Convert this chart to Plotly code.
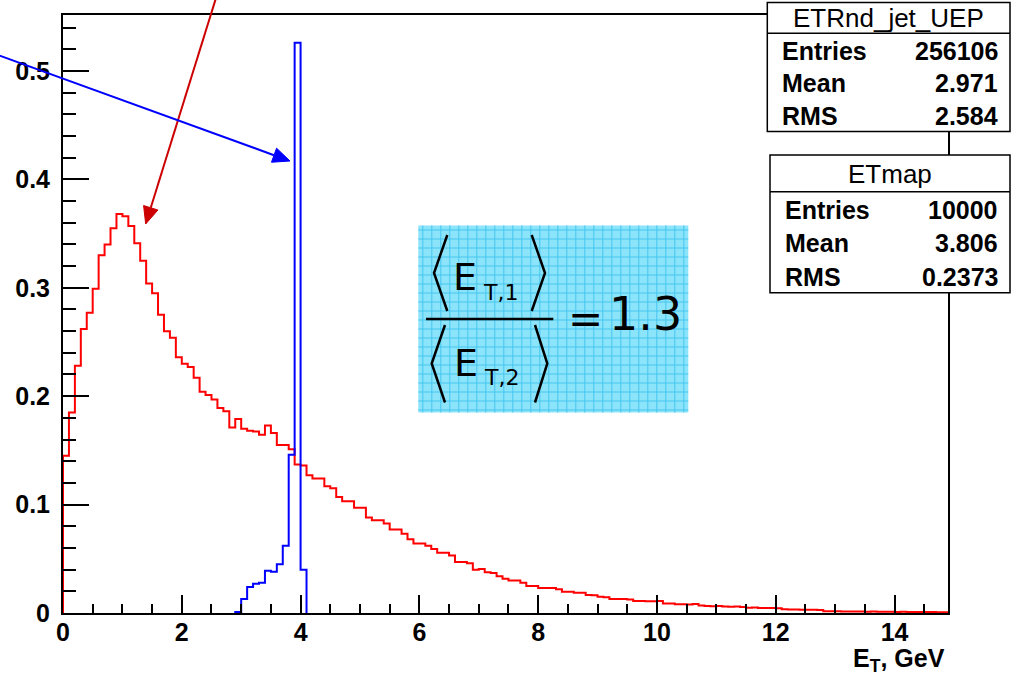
import numpy as np
import plotly.graph_objects as go

# ---------------- data ----------------
bin_width = 0.1
x_min, x_max = 0.0, 14.9

# ETRnd_jet_UEP (red), bins of 0.1 GeV from 0 to 14.9
red_values = [
    0.145, 0.185, 0.228, 0.262, 0.277, 0.299, 0.330, 0.340, 0.355, 0.368,
    0.366, 0.357, 0.341, 0.325, 0.304, 0.295, 0.275, 0.260, 0.254, 0.236,
    0.230, 0.227, 0.217, 0.204, 0.201, 0.197, 0.189, 0.186, 0.171, 0.179,
    0.170, 0.168, 0.1675, 0.1645, 0.173, 0.166, 0.155, 0.155, 0.151, 0.137,
    0.136, 0.127, 0.124, 0.124, 0.117, 0.115, 0.107, 0.103, 0.103, 0.097,
    0.097, 0.088, 0.0855, 0.0855, 0.0825, 0.077, 0.077, 0.073, 0.068, 0.064,
    0.064, 0.062, 0.059, 0.0555, 0.0555, 0.053, 0.047, 0.047, 0.046, 0.040,
    0.0405, 0.0376, 0.037, 0.034, 0.0315, 0.030, 0.030, 0.028, 0.025, 0.025,
    0.023, 0.023, 0.023, 0.022, 0.0195, 0.0195, 0.0186, 0.0186, 0.0165, 0.0164,
    0.015, 0.0146, 0.013, 0.013, 0.0128, 0.0125, 0.011, 0.011, 0.0108, 0.0108,
    0.011, 0.0088, 0.0088, 0.008, 0.008, 0.0078, 0.0082, 0.0070, 0.0065, 0.0063,
    0.0065, 0.0060, 0.0058, 0.0060, 0.0056, 0.0048, 0.0050, 0.0046, 0.0045, 0.0047,
    0.0043, 0.0034, 0.0032, 0.0033, 0.0030, 0.0031, 0.0029, 0.0028, 0.0016, 0.0015,
    0.0015, 0.0014, 0.0014, 0.0013, 0.0013, 0.0012, 0.0013, 0.0012, 0.0011, 0.0011,
    0.0010, 0.0011, 0.0010, 0.0010, 0.0009, 0.0009, 0.0009, 0.0008, 0.0008,
]

# ETmap (blue), bins of 0.1 GeV starting at 2.9
blue_start = 2.9
blue_values = [0.001, 0.013, 0.024, 0.027, 0.028, 0.039, 0.038, 0.045, 0.062, 0.146, 0.526, 0.040]

x_tickvals = [0, 2, 4, 6, 8, 10, 12, 14]
x_ticktext = ["0", "2", "4", "6", "8", "10", "12", "14"]
y_tickvals = [0, 0.1, 0.2, 0.3, 0.4, 0.5]
y_ticktext = ["0", "0.1", "0.2", "0.3", "0.4", "0.5"]

stats_red = {"title": "ETRnd_jet_UEP", "Entries": "256106", "Mean": "2.971", "RMS": "2.584"}
stats_blue = {"title": "ETmap", "Entries": "10000", "Mean": "3.806", "RMS": "0.2373"}

ratio_text = "1.3"


def step_xy(start, values):
    edges = start + bin_width * np.arange(len(values) + 1)
    xs = [edges[0]] + list(edges)
    ys = [0.0] + list(values) + [0.0]
    return xs, ys


# ---------------- figure ----------------
W, H = 1012, 675
PL, PR, PT, PB = 63, 948, 15, 613  # plot area in pixels


def fx(p):
    return (p - PL) / (PR - PL)


def fy(p):
    return (PB - p) / (PB - PT)


fig = go.Figure()

rx, ry = step_xy(x_min, red_values)
fig.add_trace(go.Scatter(x=rx, y=ry, mode="lines", line=dict(color="#ff0000", width=2, shape="hv"),
                         showlegend=False, hoverinfo="skip"))
bx, by = step_xy(blue_start, blue_values)
fig.add_trace(go.Scatter(x=bx, y=by, mode="lines", line=dict(color="#0000ff", width=2, shape="hv"),
                         showlegend=False, hoverinfo="skip"))

tickfont = dict(family="Liberation Sans, Arial, sans-serif", size=25, color="black", weight="bold")

fig.update_xaxes(range=[x_min, x_max], tickvals=x_tickvals, ticktext=x_ticktext,
                 ticks="inside", ticklen=18, tickwidth=2, tickcolor="black",
                 minor=dict(ticks="inside", dtick=0.5, ticklen=9, tickwidth=2, tickcolor="black"),
                 showline=True, linewidth=2, linecolor="black", mirror=True,
                 showgrid=False, zeroline=False, tickfont=tickfont, ticklabelstandoff=-4)
fig.update_yaxes(range=[0, 0.5516], tickvals=y_tickvals, ticktext=y_ticktext,
                 ticks="inside", ticklen=26, tickwidth=2, tickcolor="black",
                 minor=dict(ticks="inside", dtick=0.02, ticklen=13, tickwidth=2, tickcolor="black"),
                 showline=True, linewidth=2, linecolor="black", mirror=True,
                 showgrid=False, zeroline=False, tickfont=tickfont, ticklabelstandoff=6)

shapes = []
annotations = []


def seg(x0, y0, x1, y1, color, width):
    shapes.append(dict(type="line", xref="paper", yref="paper", x0=fx(x0), y0=fy(y0), x1=fx(x1), y1=fy(y1),
                       line=dict(color=color, width=width), layer="above"))


def arrow(x0, y0, x1, y1, color, hl, hw, width):
    d = np.array([x1 - x0, y1 - y0], float)
    u = d / np.linalg.norm(d)
    n = np.array([-u[1], u[0]])
    tip = np.array([x1, y1], float)
    base = tip - u * hl
    seg(x0, y0, base[0], base[1], color, width)
    p1 = base + n * hw
    p2 = base - n * hw
    path = "M {} {} L {} {} L {} {} Z".format(fx(tip[0]), fy(tip[1]), fx(p1[0]), fy(p1[1]), fx(p2[0]), fy(p2[1]))
    shapes.append(dict(type="path", xref="paper", yref="paper", path=path, fillcolor=color,
                       line=dict(color=color, width=1), layer="above"))


# arrows
arrow(216, -2, 145.7, 224, "#cc0000", 17, 7.5, 2)
arrow(-2, 55, 290, 161, "#0000ff", 17, 7.5, 2)

# equation box with grid
ex0, ey0, ex1, ey1 = 418.3, 225.5, 688.3, 412.5
shapes.append(dict(type="rect", xref="paper", yref="paper", x0=fx(ex0), y0=fy(ey1), x1=fx(ex1), y1=fy(ey0),
                   fillcolor="#8ce4fb", line=dict(width=0), layer="above"))
pth = []
gx = ex0 + 4.5
while gx < ex1:
    pth.append("M {} {} L {} {}".format(fx(gx), fy(ey0), fx(gx), fy(ey1)))
    gx += 9
gy = ey0 + 4.5
while gy < ey1:
    pth.append("M {} {} L {} {}".format(fx(ex0), fy(gy), fx(ex1), fy(gy)))
    gy += 9
shapes.append(dict(type="path", xref="paper", yref="paper", path=" ".join(pth),
                   line=dict(color="#45c6ef", width=1), layer="above"))


def bracket(xt, yt, xa, ya, xb, yb):
    path = "M {} {} L {} {} L {} {}".format(fx(xt), fy(yt), fx(xa), fy(ya), fx(xb), fy(yb))
    shapes.append(dict(type="path", xref="paper", yref="paper", path=path,
                       line=dict(color="black", width=2.5), layer="above"))


bracket(447.3, 235, 434, 273, 447.3, 311)
bracket(531.7, 235, 545, 273, 531.7, 311)
bracket(445, 325, 431.7, 363.5, 445, 402.5)
bracket(535, 325, 547.3, 363.5, 535, 402.5)
seg(426, 319, 553.3, 319, "black", 2.5)

eqfont = "DejaVu Sans, Noto Sans, sans-serif"


def txt(x, y, s, size, xanchor="center", family=eqfont, weight="normal", color="black"):
    annotations.append(dict(x=fx(x), y=fy(y), xref="paper", yref="paper", text=s, showarrow=False,
                            xanchor=xanchor, yanchor="middle",
                            font=dict(family=family, size=size, color=color, weight=weight)))


txt(465, 276.5, "E", 38)
txt(500, 292, "T,1", 22)
txt(466, 362.5, "E", 38)
txt(501, 377.5, "T,2", 22)
txt(585, 318, "=", 42)
txt(645, 314, ratio_text, 46)

# stats boxes
sfont = "Liberation Sans, Arial, sans-serif"


def statbox(stats, x0, y0, x1, ysep, y1):
    shapes.append(dict(type="rect", xref="paper", yref="paper", x0=fx(x0), y0=fy(y1), x1=fx(x1), y1=fy(y0),
                       fillcolor="white", line=dict(color="black", width=1.5), layer="above"))
    seg(x0, ysep, x1, ysep, "black", 1.5)
    txt((x0 + x1) / 2, (y0 + ysep) / 2 + 0.5, stats["title"], 26, family=sfont)
    rh = (y1 - ysep) / 3
    for i, key in enumerate(["Entries", "Mean", "RMS"]):
        yc = ysep + rh * (i + 0.5) + 1
        txt(x0 + 13, yc, key, 25, xanchor="left", family=sfont, weight="bold")
        txt(999.5, yc, stats[key], 25, xanchor="right", family=sfont, weight="bold")


statbox(stats_red, 767.3, 2.5, 1010, 33.3, 131.5)
statbox(stats_blue, 770, 155, 1010, 191.7, 292.7)

# x-axis title
txt(947, 660, "E<sub>T</sub>, GeV", 25, xanchor="right", family=sfont, weight="bold")

fig.update_layout(width=W, height=H, margin=dict(l=PL, r=W - PR, t=PT, b=H - PB),
                  paper_bgcolor="white", plot_bgcolor="white", shapes=shapes, annotations=annotations,
                  showlegend=False)

fig.write_html("out.html", config={"displayModeBar": False},
               post_script="document.body.style.margin='0px';")
